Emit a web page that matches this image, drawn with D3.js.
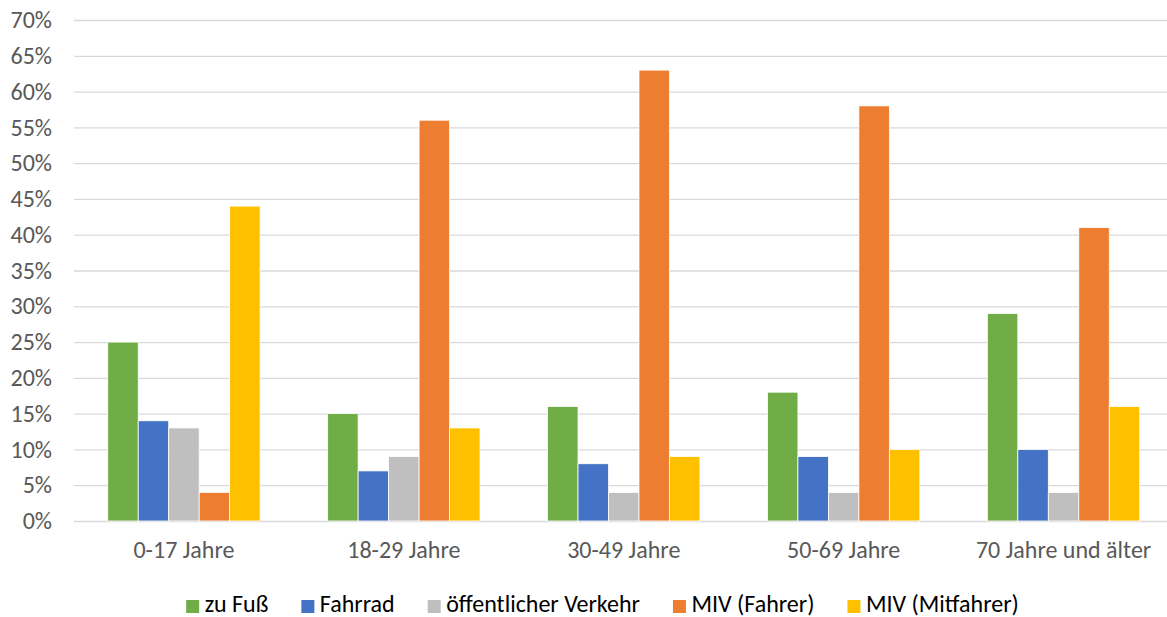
<!DOCTYPE html>
<html>
<head>
<meta charset="utf-8">
<script src="https://cdn.jsdelivr.net/npm/d3@7"></script>
<style>
  body { margin: 0; background: #fff; overflow: hidden; }
  svg { font-family: Carlito, "Open Sans", "Liberation Sans", sans-serif; display: block; }
</style>
</head>
<body>
<div id="chart"></div>
<script>
// categories and series
var ageGroups = ["0-17 Jahre", "18-29 Jahre", "30-49 Jahre", "50-69 Jahre", "70 Jahre und älter"];
var modes = ["zu Fuß", "Fahrrad", "öffentlicher Verkehr", "MIV (Fahrer)", "MIV (Mitfahrer)"];
var zuFuss = [25, 15, 16, 18, 29];
var fahrrad = [14, 7, 8, 9, 10];
var oev = [13, 9, 4, 4, 4];
var mivFahrer = [4, 56, 63, 58, 41];
var mivMitfahrer = [44, 13, 9, 10, 16];
var yTicks = [0, 5, 10, 15, 20, 25, 30, 35, 40, 45, 50, 55, 60, 65, 70];

var colors = ["#70AD47", "#4472C4", "#BFBFBF", "#ED7D31", "#FFC000"];
var seriesValues = [zuFuss, fahrrad, oev, mivFahrer, mivMitfahrer];

var width = 1167, height = 617;
// plot area runs a little past the right edge of the picture (cropped)
var margin = { top: 20, bottom: 96, left: 74 };
var plotRight = 1173.5;

var svg = d3.select('#chart').append('svg')
  .attr('width', width)
  .attr('height', height);

var x0 = d3.scaleBand()
  .domain(ageGroups)
  .range([margin.left, plotRight])
  .paddingInner(0.307)
  .paddingOuter(0.1535);

var x1 = d3.scaleBand()
  .domain(modes)
  .range([0, x0.bandwidth()]);

var y = d3.scaleLinear()
  .domain([0, 70])
  .range([height - margin.bottom, margin.top]);

// gridlines + y labels
var yAxis = d3.axisLeft(y)
  .tickValues(yTicks)
  .tickSize(-(width - margin.left))
  .tickPadding(22)
  .tickFormat(d => d + '%');

var gy = svg.append('g')
  .attr('transform', `translate(${margin.left},0)`)
  .call(yAxis);
gy.select('.domain').remove();
gy.selectAll('.tick line').attr('stroke', '#d9d9d9').attr('stroke-width', 1.3);
gy.selectAll('.tick text')
  .attr('fill', '#595959')
  .style('font-size', '24px');

// bars
var groups = svg.append('g').selectAll('g')
  .data(ageGroups)
  .enter()
  .append('g')
  .attr('transform', d => `translate(${x0(d)},0)`);

groups.selectAll('rect')
  .data((d, i) => modes.map((m, j) => ({ mode: m, value: seriesValues[j][i], color: colors[j] })))
  .enter()
  .append('rect')
  .attr('x', d => x1(d.mode))
  .attr('y', d => y(d.value))
  .attr('width', x1.bandwidth())
  .attr('height', d => y(0) - y(d.value))
  .attr('fill', d => d.color)
  .attr('stroke', '#fff')
  .attr('stroke-width', 0.8);

// x labels
var gx = svg.append('g')
  .attr('transform', `translate(0,${y(0)})`)
  .call(d3.axisBottom(x0).tickSize(0).tickPadding(20));
gx.select('.domain').remove();
gx.selectAll('.tick text')
  .attr('fill', '#595959')
  .style('font-size', '24px');
svg.selectAll('g').attr('font-family', null);

// legend
var legend = svg.append('g');
var items = legend.selectAll('g')
  .data(modes)
  .enter()
  .append('g');
items.append('rect')
  .attr('width', 13)
  .attr('height', 13)
  .attr('y', -4)
  .attr('fill', (d, i) => colors[i]);
items.append('text')
  .attr('x', 18.5)
  .attr('dy', '0.35em')
  .style('font-size', '24px')
  .attr('fill', '#000')
  .text(d => d);

var offset = 0;
var positions = [];
items.each(function() {
  var w = this.querySelector('text').getComputedTextLength();
  positions.push(offset);
  offset += 18.5 + w + 33;
});
var total = offset - 33;
items.attr('transform', (d, i) => `translate(${positions[i]},0)`);
legend.attr('transform', `translate(${(183 + 1022) / 2 - total / 2},604)`);
</script>
</body>
</html>
